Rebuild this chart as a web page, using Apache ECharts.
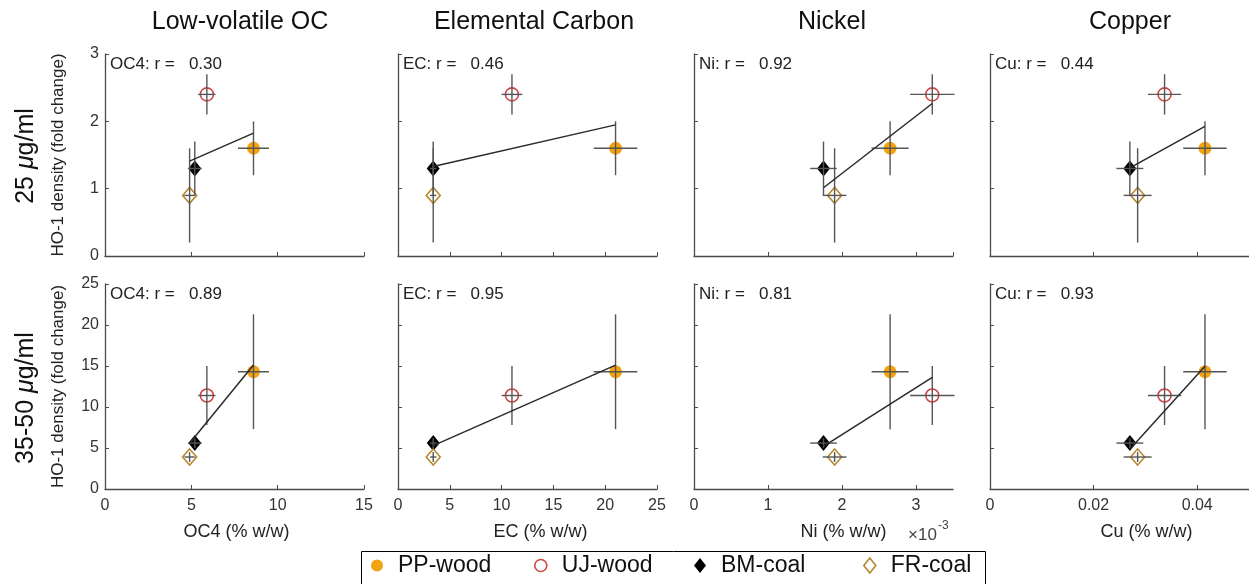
<!DOCTYPE html>
<html>
<head>
<meta charset="utf-8">
<script src="https://cdn.jsdelivr.net/npm/echarts/dist/echarts.min.js"></script>
<style>
  html, body { margin: 0; padding: 0; background: #fff; }
  #main { width: 1249px; height: 584px; }
</style>
</head>
<body>
<div id="main"></div>
<script>
// sources (same order in every array below)
const sources = ['PP-wood', 'UJ-wood', 'BM-coal', 'FR-coal'];

// x values per component
const oc4 = [8.6, 5.9, 5.2, 4.9];
const oc4Err = [0.9, 0.5, 0.4, 0.3];
const ec = [21.0, 11.0, 3.4, 3.4];
const ecErr = [2.1, 1.0, 0.3, 0.3];
const ni = [2.65, 3.22, 1.75, 1.9];        // x10^-3
const niErr = [0.25, 0.3, 0.18, 0.16];
const cu = [0.0415, 0.0337, 0.027, 0.0285];
const cuErr = [0.0042, 0.0032, 0.0026, 0.0027];

// HO-1 density (fold change)
const hoLow = [1.6, 2.4, 1.3, 0.9];        // 25 ug/ml
const hoLowErr = [0.4, 0.3, 0.4, 0.7];
const hoHigh = [14.3, 11.4, 5.6, 3.9];     // 35-50 ug/ml
const hoHighErr = [7.0, 3.6, 0.6, 0.6];

const panelTitles = ['Low-volatile OC', 'Elemental Carbon', 'Nickel', 'Copper'];
const xNames = ['OC4 (% w/w)', 'EC (% w/w)', 'Ni (% w/w)', 'Cu (% w/w)'];
const rLow = ['OC4: r =   0.30', 'EC: r =   0.46', 'Ni: r =   0.92', 'Cu: r =   0.44'];
const rHigh = ['OC4: r =   0.89', 'EC: r =   0.95', 'Ni: r =   0.81', 'Cu: r =   0.93'];
const xMax = [15, 25, 3.5, 0.05];
const xStep = [5, 5, 1, 0.02];
const yMax = [3, 25];
const yStep = [1, 5];

const xs = [oc4, ec, ni, cu];
const xErrs = [oc4Err, ecErr, niErr, cuErr];
const ys = [hoLow, hoHigh];
const yErrs = [hoLowErr, hoHighErr];
const rTexts = [rLow, rHigh];

// layout
const colLeft = [105, 398, 694, 990];
const colW = 259;
const rowTop = [54, 284];
const rowH = [202, 205];
const nameShift = [2, 13, 20, 27];
const titleX = [240, 534, 832, 1130];
const legendLeft = [371, 534, 694, 863];

const FONT = '"Liberation Sans", Arial, Helvetica, sans-serif';
const AX = '#4a4a4a';
const colors = ['#f3a30f', '#cf4646', '#000000', '#b8862b'];
const symbols = ['circle', 'circle', 'diamond', 'diamond'];
const sizes = [13, 13, [13, 16], [14, 16]];
const filled = [true, false, true, false];

function fitLine(x, y) {
  const n = x.length;
  const mx = x.reduce((a, b) => a + b, 0) / n;
  const my = y.reduce((a, b) => a + b, 0) / n;
  let sxy = 0, sxx = 0;
  for (let i = 0; i < n; i++) {
    sxy += (x[i] - mx) * (y[i] - my);
    sxx += (x[i] - mx) * (x[i] - mx);
  }
  const k = sxy / sxx;
  const x0 = Math.min(...x), x1 = Math.max(...x);
  return [[x0, my + k * (x0 - mx)], [x1, my + k * (x1 - mx)]];
}

function errBars(params, api) {
  const x = api.value(0), y = api.value(1), ex = api.value(2), ey = api.value(3);
  const l = api.coord([x - ex, y]), r = api.coord([x + ex, y]);
  const t = api.coord([x, y + ey]), b = api.coord([x, y - ey]);
  const st = { stroke: '#555', lineWidth: 1.4 };
  return {
    type: 'group',
    children: [
      { type: 'line', shape: { x1: l[0], y1: l[1], x2: r[0], y2: r[1] }, style: st },
      { type: 'line', shape: { x1: t[0], y1: t[1], x2: b[0], y2: b[1] }, style: st }
    ]
  };
}

const grids = [], xAxes = [], yAxes = [], series = [], graphics = [];

for (let row = 0; row < 2; row++) {
  for (let col = 0; col < 4; col++) {
    const idx = grids.length;
    grids.push({ left: colLeft[col], top: rowTop[row], width: colW, height: rowH[row] });
    xAxes.push({
      type: 'value', gridIndex: idx, min: 0, max: xMax[col], interval: xStep[col],
      axisLine: { lineStyle: { color: AX, width: 1.3 } },
      axisTick: { inside: true, length: 4, lineStyle: { color: AX } },
      splitLine: { show: false },
      axisLabel: {
        show: row === 1, color: '#333', fontSize: 16, fontFamily: FONT, margin: 9,
        showMaxLabel: xMax[col] % xStep[col] === 0
      },
      name: row === 1 ? xNames[col] : '',
      nameLocation: 'middle', nameGap: 34,
      nameTextStyle: { color: '#222', fontSize: 18, fontFamily: FONT, padding: [0, 0, 0, nameShift[col] * 2] }
    });
    yAxes.push({
      type: 'value', gridIndex: idx, min: 0, max: yMax[row], interval: yStep[row],
      axisLine: { show: true, lineStyle: { color: AX, width: 1.3 } },
      axisTick: { show: true, inside: true, length: 4, lineStyle: { color: AX } },
      splitLine: { show: false },
      axisLabel: { show: col === 0, color: '#333', fontSize: 16, fontFamily: FONT, margin: 6 },
      name: col === 0 ? 'HO-1 density (fold change)' : '',
      nameLocation: 'middle', nameGap: 38, nameRotate: 90,
      nameTextStyle: { color: '#222', fontSize: 17, fontFamily: FONT }
    });

    const xv = xs[col], yv = ys[row];
    series.push({
      type: 'line', xAxisIndex: idx, yAxisIndex: idx, data: fitLine(xv, yv),
      symbol: 'none', lineStyle: { color: '#2a2a2a', width: 1.5 }, z: 5, silent: true
    });
    for (let s = 0; s < sources.length; s++) {
      series.push({
        name: sources[s], type: 'scatter', xAxisIndex: idx, yAxisIndex: idx,
        data: [[xv[s], yv[s]]], symbol: symbols[s], symbolSize: sizes[s],
        itemStyle: filled[s]
          ? { color: colors[s], opacity: 1 }
          : { color: '#fff', borderColor: colors[s], borderWidth: 1.6, opacity: 1 },
        z: 3
      });
    }
    series.push({
      type: 'custom', xAxisIndex: idx, yAxisIndex: idx, renderItem: errBars, z: 4, silent: true,
      encode: { x: 0, y: 1 },
      data: xv.map((x, i) => [x, yv[i], xErrs[col][i], yErrs[row][i]])
    });

    graphics.push({
      type: 'text', left: colLeft[col] + 5, top: rowTop[row] + 2,
      style: { text: rTexts[row][col], fontSize: 17, fontFamily: FONT, fill: '#222' }
    });
  }
}

panelTitles.forEach((t, i) => {
  graphics.push({
    type: 'text', x: titleX[i], y: 22,
    style: { text: t, align: 'center', verticalAlign: 'middle', fontSize: 25, fontFamily: FONT, fill: '#111' }
  });
});

const rowLabels = ['25 {i|μ}g/ml', '35-50 {i|μ}g/ml'];
const rowLabelY = [156, 398];
rowLabels.forEach((t, i) => {
  graphics.push({
    type: 'text', x: 26, y: rowLabelY[i], rotation: Math.PI / 2,
    style: {
      text: t, align: 'center', verticalAlign: 'middle', fontSize: 25, fontFamily: FONT, fill: '#111',
      rich: { i: { fontStyle: 'italic', fontSize: 25, fontFamily: FONT, fill: '#111' } }
    }
  });
});

graphics.push({
  type: 'text', x: 908, y: 535,
  style: { text: '×10', verticalAlign: 'middle', fontSize: 17, fontFamily: FONT, fill: '#444' }
});
graphics.push({
  type: 'text', x: 938, y: 526,
  style: { text: '-3', verticalAlign: 'middle', fontSize: 12, fontFamily: FONT, fill: '#444' }
});

// legend frame
graphics.push({
  type: 'rect', left: 359, top: 549, z: 10,
  shape: { width: 624, height: 33 },
  style: { fill: 'none', stroke: '#000', lineWidth: 1 }
});

// one legend per source so each item sits at its own spot
const legends = sources.map((s, i) => ({
  data: [{
    name: s,
    icon: symbols[i],
    itemStyle: filled[i]
      ? { color: colors[i], borderWidth: 0 }
      : { color: '#fff', borderColor: colors[i], borderWidth: 1.6 }
  }],
  left: legendLeft[i], top: 554, padding: 0,
  itemWidth: 12, itemHeight: 15,
  selectedMode: false,
  textStyle: { fontSize: 23, fontFamily: FONT, color: '#111', padding: [0, 0, 0, 10] }
}));

const chart = echarts.init(document.getElementById('main'), null, { renderer: 'canvas' });
chart.setOption({
  animation: false,
  backgroundColor: '#fff',
  grid: grids,
  xAxis: xAxes,
  yAxis: yAxes,
  series: series,
  graphic: graphics,
  legend: legends
});
</script>
</body>
</html>
